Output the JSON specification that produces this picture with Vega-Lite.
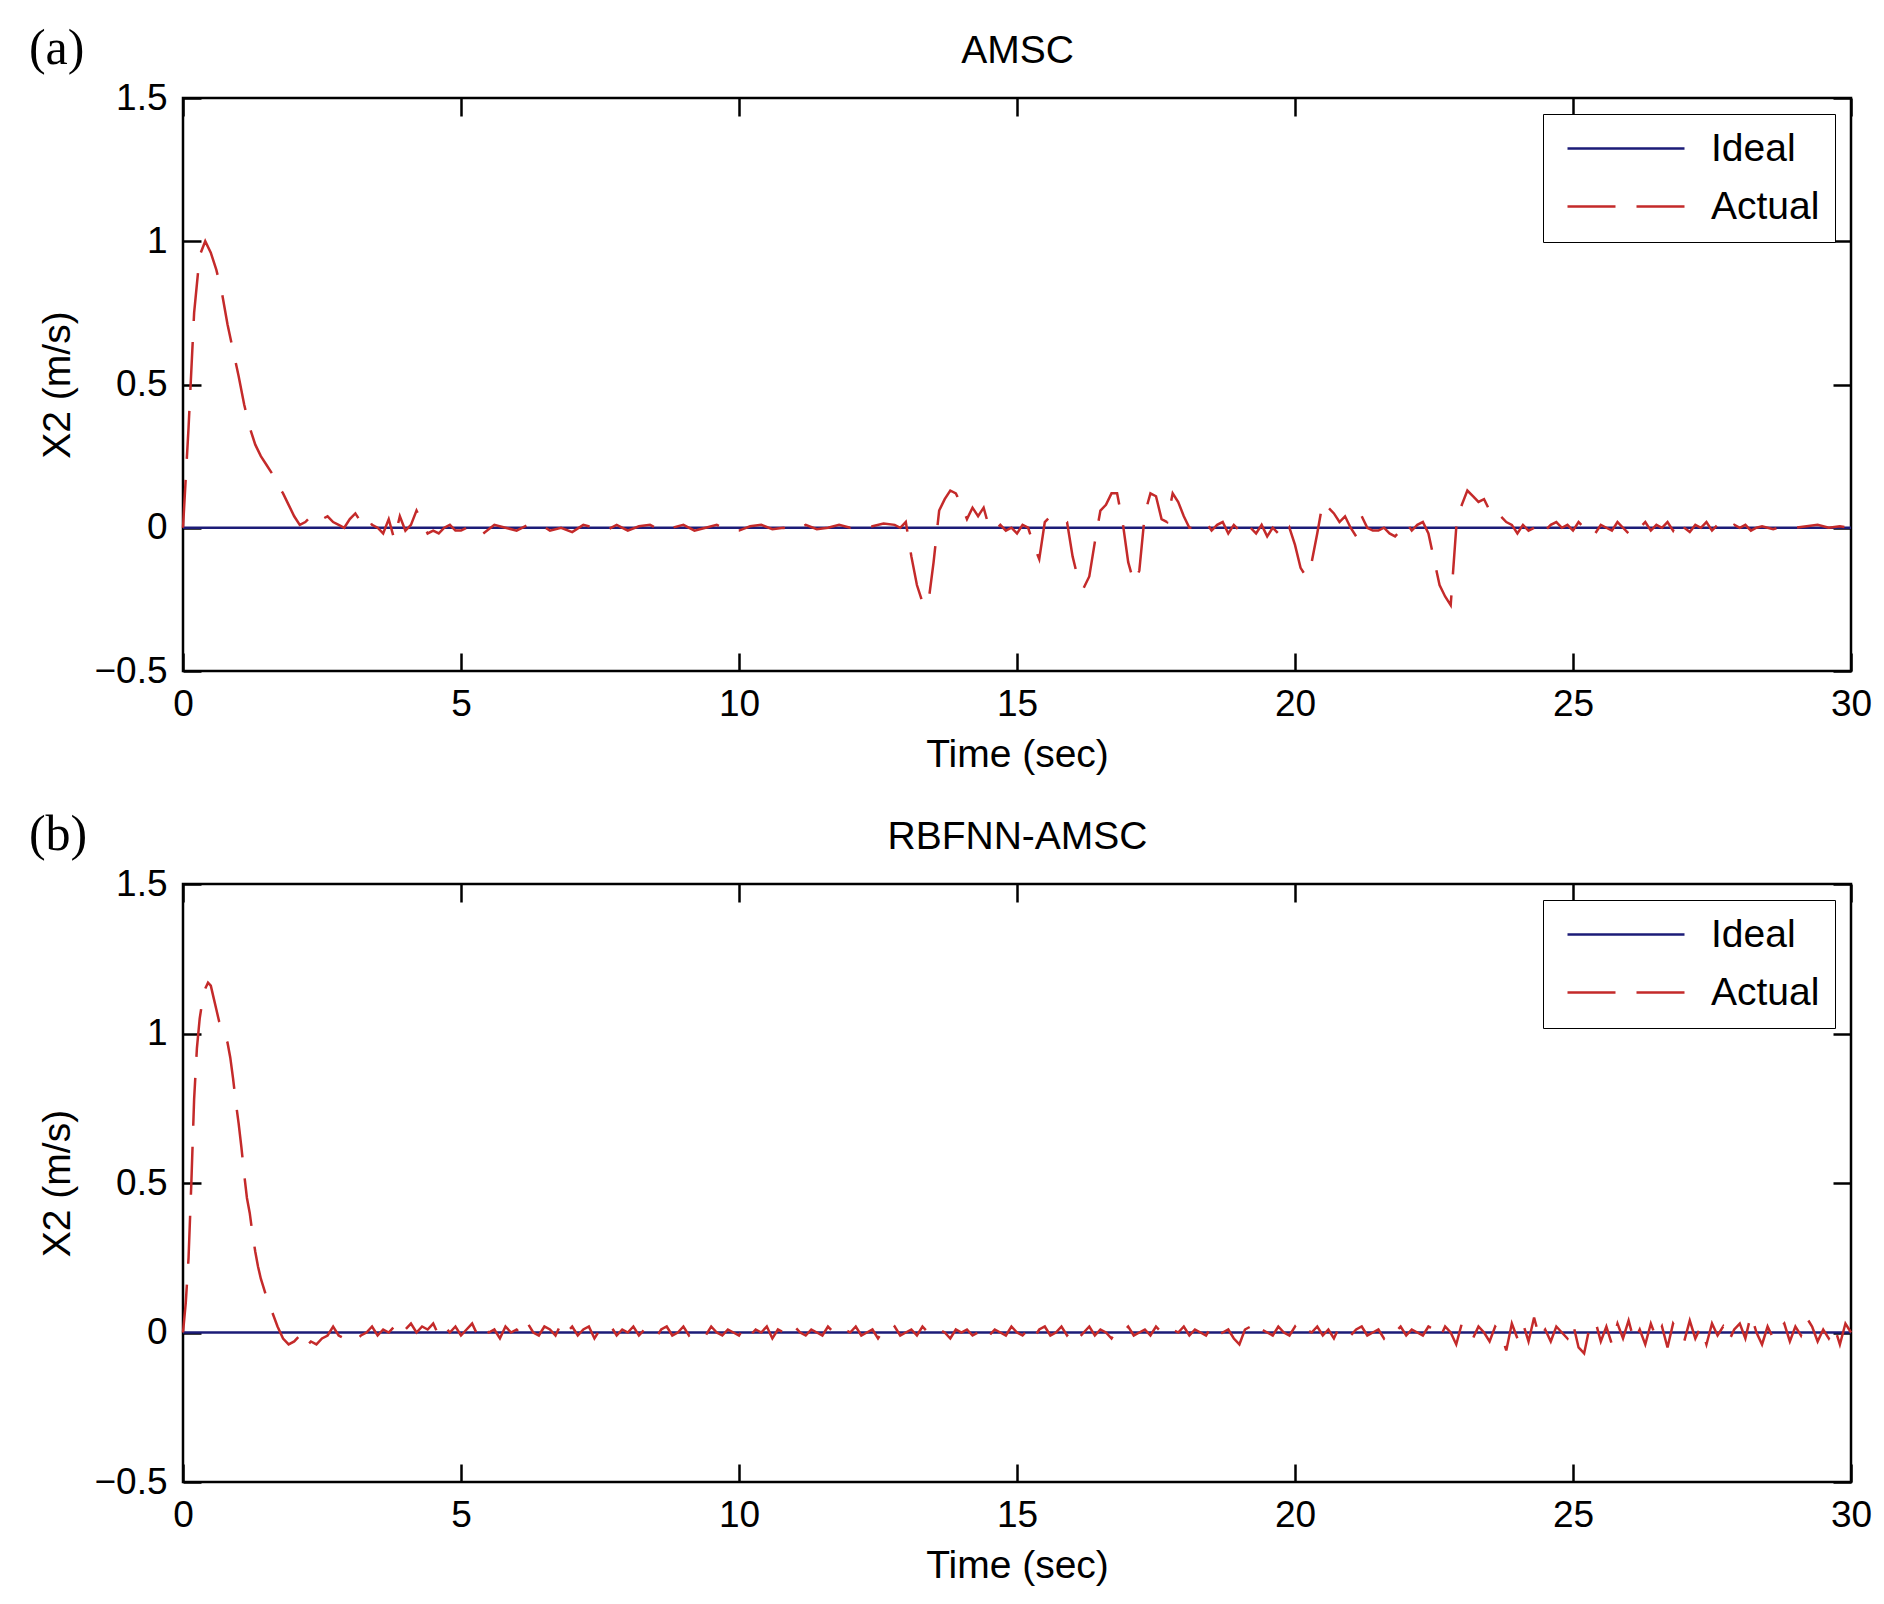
{
  "$schema": "https://vega.github.io/schema/vega-lite/v6.json",
  "background": "white",
  "padding": {"left": 27, "top": 22, "right": 12, "bottom": 10},
  "spacing": 32,
  "datasets": {
    "amsc": [
      {"s": "Ideal", "t": 0, "v": 0}, {"s": "Ideal", "t": 30, "v": 0},
      {"s": "Actual", "t": 0, "v": 0}, {"s": "Actual", "t": 0.1, "v": 0.35}, {"s": "Actual", "t": 0.2, "v": 0.75},
      {"s": "Actual", "t": 0.3, "v": 0.95}, {"s": "Actual", "t": 0.4, "v": 1.0}, {"s": "Actual", "t": 0.5, "v": 0.96},
      {"s": "Actual", "t": 0.6, "v": 0.9}, {"s": "Actual", "t": 0.7, "v": 0.82}, {"s": "Actual", "t": 0.8, "v": 0.71},
      {"s": "Actual", "t": 0.9, "v": 0.62}, {"s": "Actual", "t": 1.0, "v": 0.53}, {"s": "Actual", "t": 1.1, "v": 0.43},
      {"s": "Actual", "t": 1.2, "v": 0.35}, {"s": "Actual", "t": 1.3, "v": 0.29}, {"s": "Actual", "t": 1.4, "v": 0.25},
      {"s": "Actual", "t": 1.5, "v": 0.22}, {"s": "Actual", "t": 1.6, "v": 0.19}, {"s": "Actual", "t": 1.7, "v": 0.15},
      {"s": "Actual", "t": 1.8, "v": 0.12}, {"s": "Actual", "t": 1.9, "v": 0.08}, {"s": "Actual", "t": 2.0, "v": 0.04},
      {"s": "Actual", "t": 2.1, "v": 0.01}, {"s": "Actual", "t": 2.2, "v": 0.02}, {"s": "Actual", "t": 2.3, "v": 0.04},
      {"s": "Actual", "t": 2.4, "v": 0.05}, {"s": "Actual", "t": 2.5, "v": 0.03}, {"s": "Actual", "t": 2.6, "v": 0.04},
      {"s": "Actual", "t": 2.7, "v": 0.02}, {"s": "Actual", "t": 2.8, "v": 0.01}, {"s": "Actual", "t": 2.9, "v": 0.0},
      {"s": "Actual", "t": 3.0, "v": 0.03}, {"s": "Actual", "t": 3.1, "v": 0.05}, {"s": "Actual", "t": 3.2, "v": 0.02},
      {"s": "Actual", "t": 3.3, "v": 0.04}, {"s": "Actual", "t": 3.4, "v": 0.01}, {"s": "Actual", "t": 3.5, "v": 0.0},
      {"s": "Actual", "t": 3.6, "v": -0.02}, {"s": "Actual", "t": 3.7, "v": 0.03}, {"s": "Actual", "t": 3.8, "v": -0.04},
      {"s": "Actual", "t": 3.9, "v": 0.04}, {"s": "Actual", "t": 4.0, "v": -0.01}, {"s": "Actual", "t": 4.1, "v": 0.01},
      {"s": "Actual", "t": 4.2, "v": 0.06}, {"s": "Actual", "t": 4.3, "v": 0.02}, {"s": "Actual", "t": 4.4, "v": -0.02},
      {"s": "Actual", "t": 4.5, "v": -0.01}, {"s": "Actual", "t": 4.6, "v": -0.02}, {"s": "Actual", "t": 4.7, "v": 0.0},
      {"s": "Actual", "t": 4.8, "v": 0.01}, {"s": "Actual", "t": 4.9, "v": -0.01}, {"s": "Actual", "t": 5.0, "v": -0.01},
      {"s": "Actual", "t": 5.2, "v": 0.01}, {"s": "Actual", "t": 5.4, "v": -0.02}, {"s": "Actual", "t": 5.6, "v": 0.01},
      {"s": "Actual", "t": 5.8, "v": 0.0}, {"s": "Actual", "t": 6.0, "v": -0.01}, {"s": "Actual", "t": 6.2, "v": 0.01},
      {"s": "Actual", "t": 6.4, "v": 0.015}, {"s": "Actual", "t": 6.6, "v": -0.01}, {"s": "Actual", "t": 6.8, "v": 0.0},
      {"s": "Actual", "t": 7.0, "v": -0.015}, {"s": "Actual", "t": 7.2, "v": 0.01}, {"s": "Actual", "t": 7.4, "v": 0.0},
      {"s": "Actual", "t": 7.6, "v": -0.01}, {"s": "Actual", "t": 7.8, "v": 0.01}, {"s": "Actual", "t": 8.0, "v": -0.01},
      {"s": "Actual", "t": 8.2, "v": 0.005}, {"s": "Actual", "t": 8.4, "v": 0.01}, {"s": "Actual", "t": 8.6, "v": -0.01},
      {"s": "Actual", "t": 8.8, "v": 0.0}, {"s": "Actual", "t": 9.0, "v": 0.01}, {"s": "Actual", "t": 9.2, "v": -0.01},
      {"s": "Actual", "t": 9.4, "v": 0.0}, {"s": "Actual", "t": 9.6, "v": 0.01}, {"s": "Actual", "t": 9.8, "v": -0.01},
      {"s": "Actual", "t": 10.0, "v": -0.01}, {"s": "Actual", "t": 10.2, "v": 0.005}, {"s": "Actual", "t": 10.4, "v": 0.01},
      {"s": "Actual", "t": 10.6, "v": -0.005}, {"s": "Actual", "t": 10.8, "v": 0.0}, {"s": "Actual", "t": 11.0, "v": -0.01},
      {"s": "Actual", "t": 11.2, "v": 0.01}, {"s": "Actual", "t": 11.4, "v": -0.005}, {"s": "Actual", "t": 11.6, "v": 0.0},
      {"s": "Actual", "t": 11.8, "v": 0.01}, {"s": "Actual", "t": 12.0, "v": 0.0}, {"s": "Actual", "t": 12.2, "v": 0.01},
      {"s": "Actual", "t": 12.4, "v": 0.005}, {"s": "Actual", "t": 12.6, "v": 0.015}, {"s": "Actual", "t": 12.8, "v": 0.01},
      {"s": "Actual", "t": 12.9, "v": 0.0}, {"s": "Actual", "t": 13.0, "v": 0.02}, {"s": "Actual", "t": 13.1, "v": -0.1},
      {"s": "Actual", "t": 13.2, "v": -0.2}, {"s": "Actual", "t": 13.3, "v": -0.26}, {"s": "Actual", "t": 13.4, "v": -0.27},
      {"s": "Actual", "t": 13.5, "v": -0.12}, {"s": "Actual", "t": 13.6, "v": 0.06}, {"s": "Actual", "t": 13.7, "v": 0.1},
      {"s": "Actual", "t": 13.8, "v": 0.13}, {"s": "Actual", "t": 13.9, "v": 0.12}, {"s": "Actual", "t": 14.0, "v": 0.08},
      {"s": "Actual", "t": 14.1, "v": 0.03}, {"s": "Actual", "t": 14.2, "v": 0.07}, {"s": "Actual", "t": 14.3, "v": 0.04},
      {"s": "Actual", "t": 14.4, "v": 0.07}, {"s": "Actual", "t": 14.5, "v": 0.0}, {"s": "Actual", "t": 14.6, "v": -0.01},
      {"s": "Actual", "t": 14.7, "v": 0.01}, {"s": "Actual", "t": 14.8, "v": -0.01}, {"s": "Actual", "t": 14.9, "v": 0.0},
      {"s": "Actual", "t": 15.0, "v": -0.02}, {"s": "Actual", "t": 15.1, "v": 0.01}, {"s": "Actual", "t": 15.2, "v": 0.0},
      {"s": "Actual", "t": 15.3, "v": -0.06}, {"s": "Actual", "t": 15.4, "v": -0.11}, {"s": "Actual", "t": 15.5, "v": 0.02},
      {"s": "Actual", "t": 15.6, "v": 0.04}, {"s": "Actual", "t": 15.7, "v": 0.04}, {"s": "Actual", "t": 15.8, "v": 0.03},
      {"s": "Actual", "t": 15.9, "v": 0.02}, {"s": "Actual", "t": 16.0, "v": -0.1}, {"s": "Actual", "t": 16.1, "v": -0.18},
      {"s": "Actual", "t": 16.2, "v": -0.21}, {"s": "Actual", "t": 16.3, "v": -0.17}, {"s": "Actual", "t": 16.4, "v": -0.05},
      {"s": "Actual", "t": 16.5, "v": 0.06}, {"s": "Actual", "t": 16.6, "v": 0.08}, {"s": "Actual", "t": 16.7, "v": 0.12},
      {"s": "Actual", "t": 16.8, "v": 0.12}, {"s": "Actual", "t": 16.9, "v": 0.02}, {"s": "Actual", "t": 17.0, "v": -0.12},
      {"s": "Actual", "t": 17.1, "v": -0.19}, {"s": "Actual", "t": 17.2, "v": -0.15}, {"s": "Actual", "t": 17.3, "v": 0.05},
      {"s": "Actual", "t": 17.4, "v": 0.12}, {"s": "Actual", "t": 17.5, "v": 0.11}, {"s": "Actual", "t": 17.6, "v": 0.03},
      {"s": "Actual", "t": 17.7, "v": 0.02}, {"s": "Actual", "t": 17.8, "v": 0.12}, {"s": "Actual", "t": 17.9, "v": 0.09},
      {"s": "Actual", "t": 18.0, "v": 0.04}, {"s": "Actual", "t": 18.1, "v": 0.0}, {"s": "Actual", "t": 18.2, "v": 0.0},
      {"s": "Actual", "t": 18.3, "v": 0.01}, {"s": "Actual", "t": 18.4, "v": 0.02}, {"s": "Actual", "t": 18.5, "v": -0.01},
      {"s": "Actual", "t": 18.6, "v": 0.01}, {"s": "Actual", "t": 18.7, "v": 0.02}, {"s": "Actual", "t": 18.8, "v": -0.02},
      {"s": "Actual", "t": 18.9, "v": 0.01}, {"s": "Actual", "t": 19.0, "v": -0.01}, {"s": "Actual", "t": 19.1, "v": 0.02},
      {"s": "Actual", "t": 19.2, "v": 0.0}, {"s": "Actual", "t": 19.3, "v": -0.02}, {"s": "Actual", "t": 19.4, "v": 0.01},
      {"s": "Actual", "t": 19.5, "v": -0.03}, {"s": "Actual", "t": 19.6, "v": 0.0}, {"s": "Actual", "t": 19.7, "v": -0.02},
      {"s": "Actual", "t": 19.8, "v": -0.04}, {"s": "Actual", "t": 19.9, "v": 0.0}, {"s": "Actual", "t": 20.0, "v": -0.06},
      {"s": "Actual", "t": 20.1, "v": -0.14}, {"s": "Actual", "t": 20.2, "v": -0.17}, {"s": "Actual", "t": 20.3, "v": -0.12},
      {"s": "Actual", "t": 20.4, "v": -0.02}, {"s": "Actual", "t": 20.5, "v": 0.09}, {"s": "Actual", "t": 20.6, "v": 0.07},
      {"s": "Actual", "t": 20.7, "v": 0.05}, {"s": "Actual", "t": 20.8, "v": 0.02}, {"s": "Actual", "t": 20.9, "v": 0.04},
      {"s": "Actual", "t": 21.0, "v": 0.0}, {"s": "Actual", "t": 21.1, "v": -0.03}, {"s": "Actual", "t": 21.2, "v": 0.04},
      {"s": "Actual", "t": 21.3, "v": 0.0}, {"s": "Actual", "t": 21.4, "v": -0.01}, {"s": "Actual", "t": 21.5, "v": -0.01},
      {"s": "Actual", "t": 21.6, "v": 0.0}, {"s": "Actual", "t": 21.7, "v": -0.02}, {"s": "Actual", "t": 21.8, "v": -0.03},
      {"s": "Actual", "t": 21.9, "v": -0.01}, {"s": "Actual", "t": 22.0, "v": 0.02}, {"s": "Actual", "t": 22.1, "v": -0.01},
      {"s": "Actual", "t": 22.2, "v": 0.01}, {"s": "Actual", "t": 22.3, "v": 0.02}, {"s": "Actual", "t": 22.4, "v": -0.02},
      {"s": "Actual", "t": 22.5, "v": -0.11}, {"s": "Actual", "t": 22.6, "v": -0.2}, {"s": "Actual", "t": 22.7, "v": -0.24},
      {"s": "Actual", "t": 22.8, "v": -0.27}, {"s": "Actual", "t": 22.9, "v": 0.0}, {"s": "Actual", "t": 23.0, "v": 0.08},
      {"s": "Actual", "t": 23.1, "v": 0.13}, {"s": "Actual", "t": 23.2, "v": 0.11}, {"s": "Actual", "t": 23.3, "v": 0.09},
      {"s": "Actual", "t": 23.4, "v": 0.1}, {"s": "Actual", "t": 23.5, "v": 0.06}, {"s": "Actual", "t": 23.6, "v": 0.07},
      {"s": "Actual", "t": 23.7, "v": 0.04}, {"s": "Actual", "t": 23.8, "v": 0.02}, {"s": "Actual", "t": 23.9, "v": 0.01},
      {"s": "Actual", "t": 24.0, "v": -0.02}, {"s": "Actual", "t": 24.1, "v": 0.01}, {"s": "Actual", "t": 24.2, "v": -0.01},
      {"s": "Actual", "t": 24.3, "v": 0.0}, {"s": "Actual", "t": 24.4, "v": 0.02}, {"s": "Actual", "t": 24.5, "v": -0.01},
      {"s": "Actual", "t": 24.6, "v": 0.01}, {"s": "Actual", "t": 24.7, "v": 0.02}, {"s": "Actual", "t": 24.8, "v": 0.0},
      {"s": "Actual", "t": 24.9, "v": 0.01}, {"s": "Actual", "t": 25.0, "v": -0.01}, {"s": "Actual", "t": 25.1, "v": 0.02},
      {"s": "Actual", "t": 25.2, "v": 0.0}, {"s": "Actual", "t": 25.3, "v": 0.01}, {"s": "Actual", "t": 25.4, "v": -0.02},
      {"s": "Actual", "t": 25.5, "v": 0.01}, {"s": "Actual", "t": 25.6, "v": 0.0}, {"s": "Actual", "t": 25.7, "v": -0.01},
      {"s": "Actual", "t": 25.8, "v": 0.02}, {"s": "Actual", "t": 25.9, "v": 0.0}, {"s": "Actual", "t": 26.0, "v": -0.02},
      {"s": "Actual", "t": 26.1, "v": 0.01}, {"s": "Actual", "t": 26.2, "v": 0.0}, {"s": "Actual", "t": 26.3, "v": 0.02},
      {"s": "Actual", "t": 26.4, "v": -0.01}, {"s": "Actual", "t": 26.5, "v": 0.01}, {"s": "Actual", "t": 26.6, "v": 0.0},
      {"s": "Actual", "t": 26.7, "v": 0.02}, {"s": "Actual", "t": 26.8, "v": -0.01}, {"s": "Actual", "t": 26.9, "v": 0.03},
      {"s": "Actual", "t": 27.0, "v": 0.0}, {"s": "Actual", "t": 27.1, "v": -0.015}, {"s": "Actual", "t": 27.2, "v": 0.01},
      {"s": "Actual", "t": 27.3, "v": 0.0}, {"s": "Actual", "t": 27.4, "v": 0.02}, {"s": "Actual", "t": 27.5, "v": -0.01},
      {"s": "Actual", "t": 27.6, "v": 0.01}, {"s": "Actual", "t": 27.7, "v": 0.0}, {"s": "Actual", "t": 27.8, "v": -0.01},
      {"s": "Actual", "t": 27.9, "v": 0.01}, {"s": "Actual", "t": 28.0, "v": 0.0}, {"s": "Actual", "t": 28.1, "v": 0.01},
      {"s": "Actual", "t": 28.2, "v": -0.01}, {"s": "Actual", "t": 28.3, "v": 0.0}, {"s": "Actual", "t": 28.4, "v": 0.005},
      {"s": "Actual", "t": 28.6, "v": -0.005}, {"s": "Actual", "t": 28.8, "v": 0.005}, {"s": "Actual", "t": 29.0, "v": 0.0},
      {"s": "Actual", "t": 29.2, "v": 0.005}, {"s": "Actual", "t": 29.4, "v": 0.01}, {"s": "Actual", "t": 29.6, "v": 0.0},
      {"s": "Actual", "t": 29.8, "v": 0.005}, {"s": "Actual", "t": 30.0, "v": 0.0}
    ],
    "rbfnn": [
      {"s": "Ideal", "t": 0, "v": 0}, {"s": "Ideal", "t": 30, "v": 0},
      {"s": "Actual", "t": 0, "v": 0}, {"s": "Actual", "t": 0.05, "v": 0.1}, {"s": "Actual", "t": 0.1, "v": 0.25},
      {"s": "Actual", "t": 0.15, "v": 0.5}, {"s": "Actual", "t": 0.2, "v": 0.78}, {"s": "Actual", "t": 0.25, "v": 0.95},
      {"s": "Actual", "t": 0.3, "v": 1.05}, {"s": "Actual", "t": 0.35, "v": 1.11}, {"s": "Actual", "t": 0.4, "v": 1.15},
      {"s": "Actual", "t": 0.45, "v": 1.17}, {"s": "Actual", "t": 0.5, "v": 1.16}, {"s": "Actual", "t": 0.55, "v": 1.12},
      {"s": "Actual", "t": 0.6, "v": 1.08}, {"s": "Actual", "t": 0.65, "v": 1.04}, {"s": "Actual", "t": 0.7, "v": 1.01},
      {"s": "Actual", "t": 0.75, "v": 0.99}, {"s": "Actual", "t": 0.8, "v": 0.97}, {"s": "Actual", "t": 0.85, "v": 0.92},
      {"s": "Actual", "t": 0.9, "v": 0.85}, {"s": "Actual", "t": 0.95, "v": 0.77}, {"s": "Actual", "t": 1.0, "v": 0.7},
      {"s": "Actual", "t": 1.05, "v": 0.62}, {"s": "Actual", "t": 1.1, "v": 0.53}, {"s": "Actual", "t": 1.15, "v": 0.45},
      {"s": "Actual", "t": 1.2, "v": 0.4}, {"s": "Actual", "t": 1.25, "v": 0.33}, {"s": "Actual", "t": 1.3, "v": 0.27},
      {"s": "Actual", "t": 1.35, "v": 0.22}, {"s": "Actual", "t": 1.4, "v": 0.18}, {"s": "Actual", "t": 1.5, "v": 0.12},
      {"s": "Actual", "t": 1.6, "v": 0.07}, {"s": "Actual", "t": 1.7, "v": 0.02}, {"s": "Actual", "t": 1.8, "v": -0.02},
      {"s": "Actual", "t": 1.9, "v": -0.04}, {"s": "Actual", "t": 2.0, "v": -0.03}, {"s": "Actual", "t": 2.1, "v": -0.01},
      {"s": "Actual", "t": 2.2, "v": -0.05}, {"s": "Actual", "t": 2.3, "v": -0.03}, {"s": "Actual", "t": 2.4, "v": -0.04},
      {"s": "Actual", "t": 2.5, "v": -0.02}, {"s": "Actual", "t": 2.6, "v": -0.01}, {"s": "Actual", "t": 2.7, "v": 0.02},
      {"s": "Actual", "t": 2.8, "v": -0.01}, {"s": "Actual", "t": 2.9, "v": -0.02}, {"s": "Actual", "t": 3.0, "v": -0.03},
      {"s": "Actual", "t": 3.1, "v": -0.03}, {"s": "Actual", "t": 3.2, "v": -0.01}, {"s": "Actual", "t": 3.3, "v": 0.0},
      {"s": "Actual", "t": 3.4, "v": 0.02}, {"s": "Actual", "t": 3.5, "v": -0.01}, {"s": "Actual", "t": 3.6, "v": 0.01},
      {"s": "Actual", "t": 3.7, "v": 0.0}, {"s": "Actual", "t": 3.8, "v": 0.02}, {"s": "Actual", "t": 3.9, "v": -0.01},
      {"s": "Actual", "t": 4.0, "v": 0.01}, {"s": "Actual", "t": 4.1, "v": 0.03}, {"s": "Actual", "t": 4.2, "v": 0.0},
      {"s": "Actual", "t": 4.3, "v": 0.02}, {"s": "Actual", "t": 4.4, "v": 0.01}, {"s": "Actual", "t": 4.5, "v": 0.03},
      {"s": "Actual", "t": 4.6, "v": -0.01}, {"s": "Actual", "t": 4.7, "v": 0.02}, {"s": "Actual", "t": 4.8, "v": 0.0},
      {"s": "Actual", "t": 4.9, "v": 0.02}, {"s": "Actual", "t": 5.0, "v": -0.01}, {"s": "Actual", "t": 5.1, "v": 0.01},
      {"s": "Actual", "t": 5.2, "v": 0.03}, {"s": "Actual", "t": 5.3, "v": -0.01}, {"s": "Actual", "t": 5.4, "v": 0.02},
      {"s": "Actual", "t": 5.5, "v": 0.0}, {"s": "Actual", "t": 5.6, "v": 0.01}, {"s": "Actual", "t": 5.7, "v": -0.02},
      {"s": "Actual", "t": 5.8, "v": 0.02}, {"s": "Actual", "t": 5.9, "v": 0.0}, {"s": "Actual", "t": 6.0, "v": 0.01},
      {"s": "Actual", "t": 6.1, "v": -0.01}, {"s": "Actual", "t": 6.2, "v": 0.03}, {"s": "Actual", "t": 6.3, "v": 0.0},
      {"s": "Actual", "t": 6.4, "v": -0.01}, {"s": "Actual", "t": 6.5, "v": 0.02}, {"s": "Actual", "t": 6.6, "v": 0.01},
      {"s": "Actual", "t": 6.7, "v": -0.01}, {"s": "Actual", "t": 6.8, "v": 0.03}, {"s": "Actual", "t": 6.9, "v": 0.0},
      {"s": "Actual", "t": 7.0, "v": 0.02}, {"s": "Actual", "t": 7.1, "v": -0.01}, {"s": "Actual", "t": 7.2, "v": 0.01},
      {"s": "Actual", "t": 7.3, "v": 0.02}, {"s": "Actual", "t": 7.4, "v": -0.02}, {"s": "Actual", "t": 7.5, "v": 0.01},
      {"s": "Actual", "t": 7.6, "v": 0.0}, {"s": "Actual", "t": 7.7, "v": 0.02}, {"s": "Actual", "t": 7.8, "v": -0.01},
      {"s": "Actual", "t": 7.9, "v": 0.01}, {"s": "Actual", "t": 8.0, "v": 0.0}, {"s": "Actual", "t": 8.1, "v": 0.02},
      {"s": "Actual", "t": 8.2, "v": -0.01}, {"s": "Actual", "t": 8.3, "v": 0.01}, {"s": "Actual", "t": 8.4, "v": 0.0},
      {"s": "Actual", "t": 8.5, "v": -0.02}, {"s": "Actual", "t": 8.6, "v": 0.01}, {"s": "Actual", "t": 8.7, "v": 0.02},
      {"s": "Actual", "t": 8.8, "v": -0.01}, {"s": "Actual", "t": 8.9, "v": 0.0}, {"s": "Actual", "t": 9.0, "v": 0.02},
      {"s": "Actual", "t": 9.1, "v": -0.01}, {"s": "Actual", "t": 9.2, "v": 0.01}, {"s": "Actual", "t": 9.3, "v": 0.0},
      {"s": "Actual", "t": 9.4, "v": -0.01}, {"s": "Actual", "t": 9.5, "v": 0.02}, {"s": "Actual", "t": 9.6, "v": 0.0},
      {"s": "Actual", "t": 9.7, "v": -0.01}, {"s": "Actual", "t": 9.8, "v": 0.01}, {"s": "Actual", "t": 9.9, "v": 0.0},
      {"s": "Actual", "t": 10.0, "v": -0.01}, {"s": "Actual", "t": 10.1, "v": 0.02}, {"s": "Actual", "t": 10.2, "v": -0.01},
      {"s": "Actual", "t": 10.3, "v": 0.01}, {"s": "Actual", "t": 10.4, "v": 0.0}, {"s": "Actual", "t": 10.5, "v": 0.02},
      {"s": "Actual", "t": 10.6, "v": -0.02}, {"s": "Actual", "t": 10.7, "v": 0.01}, {"s": "Actual", "t": 10.8, "v": 0.0},
      {"s": "Actual", "t": 10.9, "v": -0.01}, {"s": "Actual", "t": 11.0, "v": 0.02}, {"s": "Actual", "t": 11.1, "v": 0.0},
      {"s": "Actual", "t": 11.2, "v": -0.01}, {"s": "Actual", "t": 11.3, "v": 0.01}, {"s": "Actual", "t": 11.4, "v": 0.0},
      {"s": "Actual", "t": 11.5, "v": -0.01}, {"s": "Actual", "t": 11.6, "v": 0.02}, {"s": "Actual", "t": 11.7, "v": 0.0},
      {"s": "Actual", "t": 11.8, "v": -0.01}, {"s": "Actual", "t": 11.9, "v": 0.01}, {"s": "Actual", "t": 12.0, "v": 0.0},
      {"s": "Actual", "t": 12.1, "v": 0.02}, {"s": "Actual", "t": 12.2, "v": -0.01}, {"s": "Actual", "t": 12.3, "v": 0.0},
      {"s": "Actual", "t": 12.4, "v": 0.01}, {"s": "Actual", "t": 12.5, "v": -0.02}, {"s": "Actual", "t": 12.6, "v": 0.01},
      {"s": "Actual", "t": 12.7, "v": 0.0}, {"s": "Actual", "t": 12.8, "v": 0.02}, {"s": "Actual", "t": 12.9, "v": -0.01},
      {"s": "Actual", "t": 13.0, "v": 0.0}, {"s": "Actual", "t": 13.1, "v": 0.01}, {"s": "Actual", "t": 13.2, "v": -0.01},
      {"s": "Actual", "t": 13.3, "v": 0.02}, {"s": "Actual", "t": 13.4, "v": 0.0}, {"s": "Actual", "t": 13.5, "v": -0.01},
      {"s": "Actual", "t": 13.6, "v": 0.01}, {"s": "Actual", "t": 13.7, "v": 0.0}, {"s": "Actual", "t": 13.8, "v": -0.02},
      {"s": "Actual", "t": 13.9, "v": 0.01}, {"s": "Actual", "t": 14.0, "v": 0.0}, {"s": "Actual", "t": 14.1, "v": 0.01},
      {"s": "Actual", "t": 14.2, "v": -0.01}, {"s": "Actual", "t": 14.3, "v": 0.0}, {"s": "Actual", "t": 14.4, "v": 0.02},
      {"s": "Actual", "t": 14.5, "v": -0.01}, {"s": "Actual", "t": 14.6, "v": 0.01}, {"s": "Actual", "t": 14.7, "v": 0.0},
      {"s": "Actual", "t": 14.8, "v": -0.01}, {"s": "Actual", "t": 14.9, "v": 0.02}, {"s": "Actual", "t": 15.0, "v": 0.0},
      {"s": "Actual", "t": 15.1, "v": -0.01}, {"s": "Actual", "t": 15.2, "v": 0.01}, {"s": "Actual", "t": 15.3, "v": -0.02},
      {"s": "Actual", "t": 15.4, "v": 0.01}, {"s": "Actual", "t": 15.5, "v": 0.02}, {"s": "Actual", "t": 15.6, "v": -0.01},
      {"s": "Actual", "t": 15.7, "v": 0.0}, {"s": "Actual", "t": 15.8, "v": 0.02}, {"s": "Actual", "t": 15.9, "v": -0.01},
      {"s": "Actual", "t": 16.0, "v": 0.01}, {"s": "Actual", "t": 16.1, "v": -0.02}, {"s": "Actual", "t": 16.2, "v": 0.0},
      {"s": "Actual", "t": 16.3, "v": 0.02}, {"s": "Actual", "t": 16.4, "v": -0.01}, {"s": "Actual", "t": 16.5, "v": 0.01},
      {"s": "Actual", "t": 16.6, "v": 0.0}, {"s": "Actual", "t": 16.7, "v": -0.02}, {"s": "Actual", "t": 16.8, "v": 0.01},
      {"s": "Actual", "t": 16.9, "v": 0.0}, {"s": "Actual", "t": 17.0, "v": 0.02}, {"s": "Actual", "t": 17.1, "v": -0.01},
      {"s": "Actual", "t": 17.2, "v": 0.0}, {"s": "Actual", "t": 17.3, "v": 0.01}, {"s": "Actual", "t": 17.4, "v": -0.01},
      {"s": "Actual", "t": 17.5, "v": 0.02}, {"s": "Actual", "t": 17.6, "v": 0.0}, {"s": "Actual", "t": 17.7, "v": -0.01},
      {"s": "Actual", "t": 17.8, "v": 0.01}, {"s": "Actual", "t": 17.9, "v": 0.0}, {"s": "Actual", "t": 18.0, "v": 0.02},
      {"s": "Actual", "t": 18.1, "v": -0.01}, {"s": "Actual", "t": 18.2, "v": 0.01}, {"s": "Actual", "t": 18.3, "v": 0.0},
      {"s": "Actual", "t": 18.4, "v": -0.01}, {"s": "Actual", "t": 18.5, "v": 0.02}, {"s": "Actual", "t": 18.6, "v": -0.01},
      {"s": "Actual", "t": 18.7, "v": 0.0}, {"s": "Actual", "t": 18.8, "v": 0.01}, {"s": "Actual", "t": 18.9, "v": -0.02},
      {"s": "Actual", "t": 19.0, "v": -0.04}, {"s": "Actual", "t": 19.1, "v": 0.01}, {"s": "Actual", "t": 19.2, "v": 0.02},
      {"s": "Actual", "t": 19.3, "v": -0.01}, {"s": "Actual", "t": 19.4, "v": 0.01}, {"s": "Actual", "t": 19.5, "v": 0.0},
      {"s": "Actual", "t": 19.6, "v": -0.01}, {"s": "Actual", "t": 19.7, "v": 0.02}, {"s": "Actual", "t": 19.8, "v": 0.0},
      {"s": "Actual", "t": 19.9, "v": -0.01}, {"s": "Actual", "t": 20.0, "v": 0.02}, {"s": "Actual", "t": 20.1, "v": -0.01},
      {"s": "Actual", "t": 20.2, "v": 0.01}, {"s": "Actual", "t": 20.3, "v": 0.0}, {"s": "Actual", "t": 20.4, "v": 0.02},
      {"s": "Actual", "t": 20.5, "v": -0.01}, {"s": "Actual", "t": 20.6, "v": 0.01}, {"s": "Actual", "t": 20.7, "v": -0.02},
      {"s": "Actual", "t": 20.8, "v": 0.02}, {"s": "Actual", "t": 20.9, "v": 0.0}, {"s": "Actual", "t": 21.0, "v": -0.01},
      {"s": "Actual", "t": 21.1, "v": 0.01}, {"s": "Actual", "t": 21.2, "v": 0.02}, {"s": "Actual", "t": 21.3, "v": -0.01},
      {"s": "Actual", "t": 21.4, "v": 0.0}, {"s": "Actual", "t": 21.5, "v": 0.01}, {"s": "Actual", "t": 21.6, "v": -0.02},
      {"s": "Actual", "t": 21.7, "v": 0.01}, {"s": "Actual", "t": 21.8, "v": 0.0}, {"s": "Actual", "t": 21.9, "v": 0.02},
      {"s": "Actual", "t": 22.0, "v": -0.01}, {"s": "Actual", "t": 22.1, "v": 0.01}, {"s": "Actual", "t": 22.2, "v": 0.0},
      {"s": "Actual", "t": 22.3, "v": -0.01}, {"s": "Actual", "t": 22.4, "v": 0.02}, {"s": "Actual", "t": 22.5, "v": 0.01},
      {"s": "Actual", "t": 22.6, "v": -0.02}, {"s": "Actual", "t": 22.7, "v": 0.02}, {"s": "Actual", "t": 22.8, "v": 0.0},
      {"s": "Actual", "t": 22.9, "v": -0.04}, {"s": "Actual", "t": 23.0, "v": 0.03}, {"s": "Actual", "t": 23.1, "v": 0.01},
      {"s": "Actual", "t": 23.2, "v": -0.02}, {"s": "Actual", "t": 23.3, "v": 0.02}, {"s": "Actual", "t": 23.4, "v": 0.0},
      {"s": "Actual", "t": 23.5, "v": -0.03}, {"s": "Actual", "t": 23.6, "v": 0.02}, {"s": "Actual", "t": 23.7, "v": 0.0},
      {"s": "Actual", "t": 23.8, "v": -0.06}, {"s": "Actual", "t": 23.9, "v": 0.03}, {"s": "Actual", "t": 24.0, "v": -0.02},
      {"s": "Actual", "t": 24.1, "v": 0.03}, {"s": "Actual", "t": 24.2, "v": -0.03}, {"s": "Actual", "t": 24.3, "v": 0.05},
      {"s": "Actual", "t": 24.4, "v": -0.02}, {"s": "Actual", "t": 24.5, "v": 0.01}, {"s": "Actual", "t": 24.6, "v": -0.03},
      {"s": "Actual", "t": 24.7, "v": 0.02}, {"s": "Actual", "t": 24.8, "v": 0.0}, {"s": "Actual", "t": 24.9, "v": -0.02},
      {"s": "Actual", "t": 25.0, "v": 0.03}, {"s": "Actual", "t": 25.1, "v": -0.05}, {"s": "Actual", "t": 25.2, "v": -0.07},
      {"s": "Actual", "t": 25.3, "v": 0.02}, {"s": "Actual", "t": 25.4, "v": 0.04}, {"s": "Actual", "t": 25.5, "v": -0.03},
      {"s": "Actual", "t": 25.6, "v": 0.02}, {"s": "Actual", "t": 25.7, "v": -0.04}, {"s": "Actual", "t": 25.8, "v": 0.03},
      {"s": "Actual", "t": 25.9, "v": -0.02}, {"s": "Actual", "t": 26.0, "v": 0.04}, {"s": "Actual", "t": 26.1, "v": -0.03},
      {"s": "Actual", "t": 26.2, "v": 0.01}, {"s": "Actual", "t": 26.3, "v": -0.04}, {"s": "Actual", "t": 26.4, "v": 0.03},
      {"s": "Actual", "t": 26.5, "v": -0.02}, {"s": "Actual", "t": 26.6, "v": 0.02}, {"s": "Actual", "t": 26.7, "v": -0.05},
      {"s": "Actual", "t": 26.8, "v": 0.03}, {"s": "Actual", "t": 26.9, "v": 0.0}, {"s": "Actual", "t": 27.0, "v": -0.03},
      {"s": "Actual", "t": 27.1, "v": 0.04}, {"s": "Actual", "t": 27.2, "v": -0.02}, {"s": "Actual", "t": 27.3, "v": 0.02},
      {"s": "Actual", "t": 27.4, "v": -0.04}, {"s": "Actual", "t": 27.5, "v": 0.03}, {"s": "Actual", "t": 27.6, "v": -0.01},
      {"s": "Actual", "t": 27.7, "v": 0.02}, {"s": "Actual", "t": 27.8, "v": -0.03}, {"s": "Actual", "t": 27.9, "v": 0.01},
      {"s": "Actual", "t": 28.0, "v": 0.03}, {"s": "Actual", "t": 28.1, "v": -0.02}, {"s": "Actual", "t": 28.2, "v": 0.06},
      {"s": "Actual", "t": 28.3, "v": 0.0}, {"s": "Actual", "t": 28.4, "v": -0.04}, {"s": "Actual", "t": 28.5, "v": 0.02},
      {"s": "Actual", "t": 28.6, "v": -0.02}, {"s": "Actual", "t": 28.7, "v": 0.01}, {"s": "Actual", "t": 28.8, "v": 0.03},
      {"s": "Actual", "t": 28.9, "v": -0.03}, {"s": "Actual", "t": 29.0, "v": 0.02}, {"s": "Actual", "t": 29.1, "v": -0.01},
      {"s": "Actual", "t": 29.2, "v": 0.05}, {"s": "Actual", "t": 29.3, "v": 0.02}, {"s": "Actual", "t": 29.4, "v": -0.03},
      {"s": "Actual", "t": 29.5, "v": 0.01}, {"s": "Actual", "t": 29.6, "v": -0.02}, {"s": "Actual", "t": 29.7, "v": 0.02},
      {"s": "Actual", "t": 29.8, "v": -0.04}, {"s": "Actual", "t": 29.9, "v": 0.03}, {"s": "Actual", "t": 30.0, "v": 0.0}
    ]
  },
  "vconcat": [
    {
      "title": {"text": "(a)", "anchor": "start", "frame": "bounds", "font": "Liberation Serif", "fontSize": 50, "fontWeight": "normal", "color": "black", "offset": -42, "dx": -10},
      "width": 1668,
      "height": 573,
      "data": {"name": "amsc"},
      "encoding": {
        "color": {
          "field": "s", "type": "nominal",
          "scale": {"domain": ["Ideal", "Actual"], "range": ["#1c1c78", "#c42a2a"]},
          "legend": {"title": null}
        },
        "strokeDash": {
          "field": "s", "type": "nominal",
          "scale": {"domain": ["Ideal", "Actual"], "range": [[1, 0], [48, 21]]},
          "legend": {"title": null}
        }
      },
      "layer": [
        {
          "transform": [{"filter": "datum.s === 'Ideal'"}],
          "mark": {"type": "line", "strokeWidth": 2.5},
          "encoding": {
            "x": {"field": "t", "type": "quantitative", "scale": {"domain": [0, 30], "nice": false},
                  "axis": {"orient": "bottom", "values": [0, 5, 10, 15, 20, 25, 30], "format": "d", "title": "Time (sec)"}},
            "y": {"field": "v", "type": "quantitative", "scale": {"domain": [-0.5, 1.5], "nice": false, "zero": false},
                  "axis": {"orient": "left", "values": [-0.5, 0, 0.5, 1, 1.5], "format": "~g", "title": "X2 (m/s)"}}
          }
        },
        {
          "transform": [{"filter": "datum.s === 'Actual'"}],
          "mark": {"type": "line", "strokeWidth": 2.5},
          "encoding": {
            "x": {"field": "t", "type": "quantitative", "scale": {"domain": [0, 30], "nice": false},
                  "axis": {"orient": "top", "values": [0, 5, 10, 15, 20, 25, 30], "labels": false, "title": "AMSC", "titlePadding": 26}},
            "y": {"field": "v", "type": "quantitative", "scale": {"domain": [-0.5, 1.5], "nice": false, "zero": false},
                  "axis": {"orient": "right", "values": [-0.5, 0, 0.5, 1, 1.5], "labels": false, "title": null}}
          }
        }
      ],
      "resolve": {"axis": {"x": "independent", "y": "independent"}}
    },
    {
      "title": {"text": "(b)", "anchor": "start", "frame": "bounds", "font": "Liberation Serif", "fontSize": 50, "fontWeight": "normal", "color": "black", "offset": -42, "dx": -10},
      "width": 1668,
      "height": 598,
      "data": {"name": "rbfnn"},
      "encoding": {
        "color": {
          "field": "s", "type": "nominal",
          "scale": {"domain": ["Ideal", "Actual"], "range": ["#1c1c78", "#c42a2a"]},
          "legend": {"title": null}
        },
        "strokeDash": {
          "field": "s", "type": "nominal",
          "scale": {"domain": ["Ideal", "Actual"], "range": [[1, 0], [48, 21]]},
          "legend": {"title": null}
        }
      },
      "layer": [
        {
          "transform": [{"filter": "datum.s === 'Ideal'"}],
          "mark": {"type": "line", "strokeWidth": 2.5},
          "encoding": {
            "x": {"field": "t", "type": "quantitative", "scale": {"domain": [0, 30], "nice": false},
                  "axis": {"orient": "bottom", "values": [0, 5, 10, 15, 20, 25, 30], "format": "d", "title": "Time (sec)"}},
            "y": {"field": "v", "type": "quantitative", "scale": {"domain": [-0.5, 1.5], "nice": false, "zero": false},
                  "axis": {"orient": "left", "values": [-0.5, 0, 0.5, 1, 1.5], "format": "~g", "title": "X2 (m/s)"}}
          }
        },
        {
          "transform": [{"filter": "datum.s === 'Actual'"}],
          "mark": {"type": "line", "strokeWidth": 2.5},
          "encoding": {
            "x": {"field": "t", "type": "quantitative", "scale": {"domain": [0, 30], "nice": false},
                  "axis": {"orient": "top", "values": [0, 5, 10, 15, 20, 25, 30], "labels": false, "title": "RBFNN-AMSC", "titlePadding": 26}},
            "y": {"field": "v", "type": "quantitative", "scale": {"domain": [-0.5, 1.5], "nice": false, "zero": false},
                  "axis": {"orient": "right", "values": [-0.5, 0, 0.5, 1, 1.5], "labels": false, "title": null}}
          }
        }
      ],
      "resolve": {"axis": {"x": "independent", "y": "independent"}}
    }
  ],
  "resolve": {"scale": {"color": "independent", "strokeDash": "independent"}, "legend": {"color": "independent", "strokeDash": "independent"}},
  "config": {
    "font": "Liberation Sans",
    "view": {"stroke": "black", "strokeWidth": 2.5},
    "axis": {
      "grid": false, "domain": false,
      "labelFont": "Liberation Sans", "labelFontSize": 37, "labelColor": "black", "labelFlush": false, "labelPadding": 33,
      "titleFont": "Liberation Sans", "titleFontSize": 39, "titleFontWeight": "normal", "titleColor": "black", "titlePadding": 13,
      "tickColor": "black", "tickWidth": 2.5, "tickSize": -18
    },
    "axisY": {"labelPadding": 34, "titlePadding": 16},
    "legend": {
      "orient": "top-right", "offset": 16, "padding": 15,
      "strokeColor": "black", "fillColor": "white",
      "labelFont": "Liberation Sans", "labelFontSize": 39, "labelColor": "black", "labelOffset": 114,
      "symbolType": "M-1,0H10.7", "symbolSize": 400, "symbolStrokeWidth": 2.5, "rowPadding": 18
    }
  }
}
